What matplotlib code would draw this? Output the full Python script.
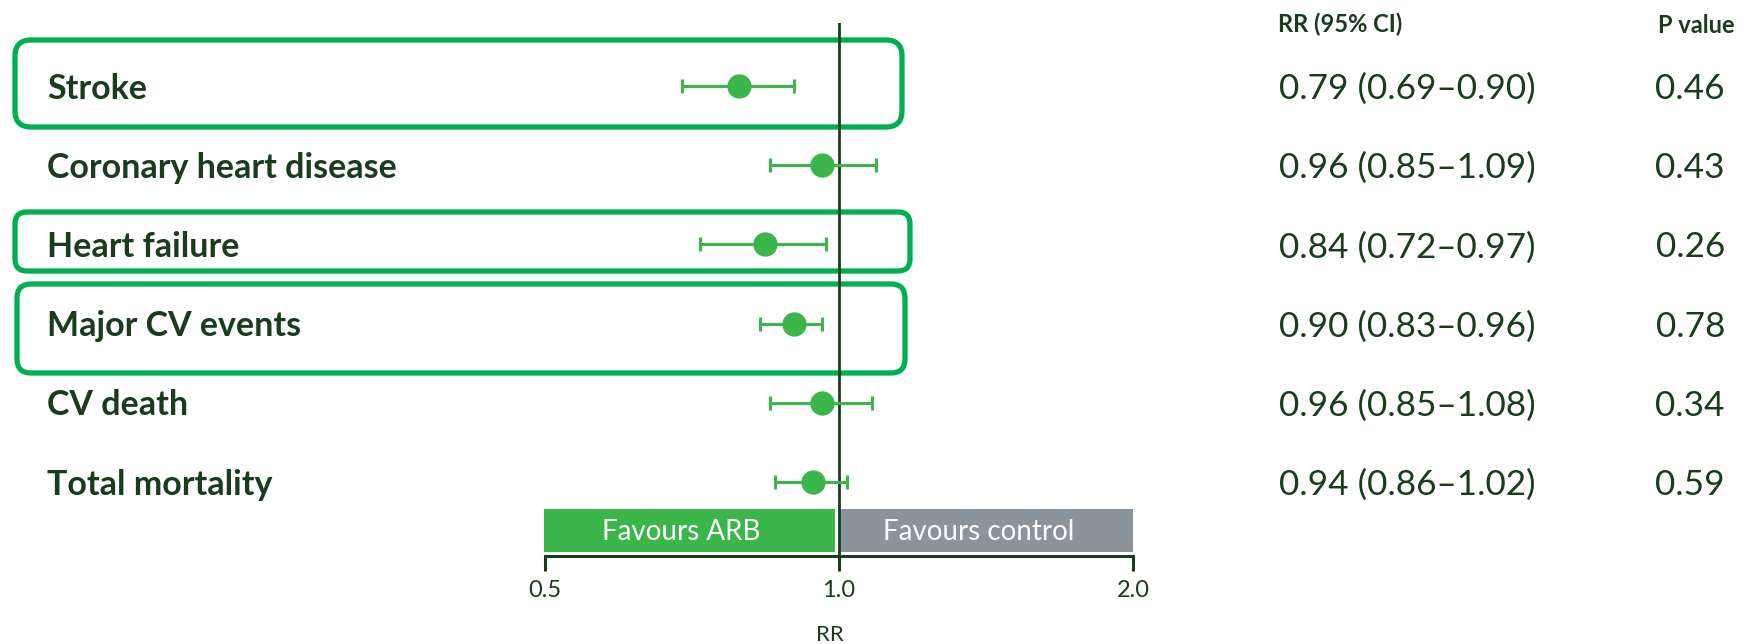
import numpy as np
import matplotlib
matplotlib.use("Agg")
import matplotlib.pyplot as plt
from matplotlib.patches import FancyBboxPatch, Rectangle
from matplotlib.ticker import NullLocator, FixedLocator, FixedFormatter

# ---- data -------------------------------------------------------------
outcomes = ["Stroke", "Coronary heart disease", "Heart failure",
            "Major CV events", "CV death", "Total mortality"]
rr = [0.79, 0.96, 0.84, 0.90, 0.96, 0.94]
ci_low = [0.69, 0.85, 0.72, 0.83, 0.85, 0.86]
ci_high = [0.90, 1.09, 0.97, 0.96, 1.08, 1.02]
p_values = ["0.46", "0.43", "0.26", "0.78", "0.34", "0.59"]
highlighted = ["Stroke", "Heart failure", "Major CV events"]
x_ticks = [0.5, 1.0, 2.0]
x_tick_labels = ["0.5", "1.0", "2.0"]
favours_labels = ["Favours ARB", "Favours control"]

# ---- styling ----------------------------------------------------------
DARK = "#183c1c"
MARK = "#3cb54a"
BOX = "#00b050"
GREY = "#89949c"
FONT = "Lato"

# ---- layout (pixels) --------------------------------------------------
W, H = 1745, 644
AX_LEFT, AX_RIGHT = 545, 1133
AX_TOP, AX_BOTTOM = 23, 556
ROW0, ROW_STEP = 86, 79.2
BOX_EXTENTS = {                    # left, top, right, bottom
    "Stroke": (15, 40, 902, 127),
    "Heart failure": (15, 212, 910, 271),
    "Major CV events": (17, 284, 905, 373),
}
BOX_RADIUS = {"Stroke": 16, "Heart failure": 12, "Major CV events": 14}

fig = plt.figure(figsize=(W / 100, H / 100), dpi=100)

# overlay in pixel coordinates for labels, columns and highlight boxes
ov = fig.add_axes([0, 0, 1, 1], zorder=0)
ov.set_xlim(0, W)
ov.set_ylim(H, 0)
ov.axis("off")

ax = fig.add_axes([AX_LEFT / W, 1 - AX_BOTTOM / H,
                   (AX_RIGHT - AX_LEFT) / W, (AX_BOTTOM - AX_TOP) / H],
                  zorder=1)
ax.patch.set_alpha(0)
ax.set_xscale("log")
ax.set_xlim(x_ticks[0], x_ticks[-1])
ax.set_ylim((AX_BOTTOM - ROW0) / ROW_STEP, (AX_TOP - ROW0) / ROW_STEP)

n = len(outcomes)
rows = np.arange(n)
rr_a = np.array(rr)
err = np.vstack([rr_a - np.array(ci_low), np.array(ci_high) - rr_a])

# reference line at RR = 1
ax.axvline(1.0, color=DARK, lw=2.0, zorder=2)

ax.errorbar(rr_a, rows, xerr=err, fmt="o", color=MARK, ms=16.5,
            elinewidth=2.2, capsize=4.7, capthick=2.2, zorder=3)

# axis styling
for side in ("top", "right", "left"):
    ax.spines[side].set_visible(False)
ax.spines["bottom"].set_color(DARK)
ax.spines["bottom"].set_linewidth(2.2)
ax.xaxis.set_major_locator(FixedLocator(x_ticks))
ax.xaxis.set_major_formatter(FixedFormatter(x_tick_labels))
ax.xaxis.set_minor_locator(NullLocator())
ax.set_yticks([])
ax.tick_params(axis="x", direction="out", length=11, width=2.2,
               color=DARK, labelcolor=DARK, labelsize=17, pad=6)
for lbl in ax.get_xticklabels():
    lbl.set_family(FONT)


def xpix(v):
    """Pixel x (overlay coords) of an RR value on the forest axis."""
    disp = ax.transData.transform((v, 0))
    return ov.transData.inverted().transform(disp)[0]


# axis title below the scale
ov.text(xpix(1.0) - 9, 641, "RR", color=DARK, fontsize=16, family=FONT,
        ha="center", va="baseline")

# favours bars
p_lo, p_one, p_hi = xpix(x_ticks[0]), xpix(1.0), xpix(x_ticks[-1])
bar_top, bar_bot = 509, 552
bars = [(p_lo - 1, p_one - 4, MARK), (p_one + 1, p_hi, GREY)]
for (x0, x1, col), txt in zip(bars, favours_labels):
    ov.add_patch(Rectangle((x0, bar_top), x1 - x0, bar_bot - bar_top,
                           facecolor=col, edgecolor="none", zorder=2))
    ov.text((x0 + x1) / 2 - 8, (bar_top + bar_bot) / 2 + 10, txt,
            color="white", fontsize=20, family=FONT,
            ha="center", va="baseline", zorder=3)

# highlight boxes
for name in highlighted:
    l, t, r, b = BOX_EXTENTS[name]
    ov.add_patch(FancyBboxPatch(
        (l, t), r - l, b - t,
        boxstyle=f"round,pad=0,rounding_size={BOX_RADIUS[name]}",
        facecolor="none", edgecolor=BOX, lw=3.8, zorder=1))

# outcome labels
for i, name in enumerate(outcomes):
    ov.text(47, ROW0 + ROW_STEP * i + 12.5, name, color=DARK, fontsize=24.5,
            fontweight="bold", family=FONT, ha="left", va="baseline")

# right-hand columns
ov.text(1278, 32.5, "RR (95% CI)", color=DARK, fontsize=17,
        fontweight="bold", family=FONT, ha="left", va="baseline")
ov.text(1735, 32.5, "P value", color=DARK, fontsize=17,
        fontweight="bold", family=FONT, ha="right", va="baseline")
for i in range(n):
    y = ROW0 + ROW_STEP * i + 13
    ov.text(1279, y, f"{rr[i]:.2f} ({ci_low[i]:.2f}\u2013{ci_high[i]:.2f})",
            color=DARK, fontsize=25.3, family=FONT, ha="left", va="baseline")
    ov.text(1725, y, p_values[i], color=DARK, fontsize=25.3, family=FONT,
            ha="right", va="baseline")

fig.savefig("out.png", dpi=100, facecolor="white")
